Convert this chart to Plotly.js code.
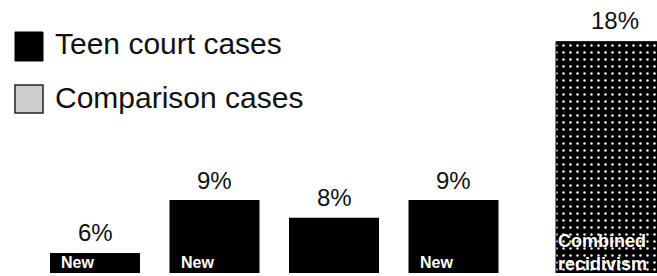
<!DOCTYPE html>
<html>
<head>
<meta charset="utf-8">
<script src="https://cdn.plot.ly/plotly-3.0.1.min.js"></script>
<style>html,body{margin:0;padding:0;background:#fff;}#chart{width:657px;height:276px;}</style>
</head>
<body>
<div id="chart"></div>
<script>
// ---- data ----
var teenCategories = ["Teen court 1", "Teen court 2", "Teen court 3", "Teen court 4"];
var teenValues = [6, 9, 8, 9];
var teenNewLabels = ["New", "New", "", "New"];
var comparisonCategories = ["Combined recidivism"];
var comparisonValues = [18];
var comparisonLabel = "Combined<br>recidivism";
var legendLabels = ["Teen court cases", "Comparison cases"];

// ---- layout helpers (pixel geometry) ----
var W = 657, H = 276, MB = 3, PH = H - MB;
var slotPx = 119.5, firstCenterPx = 95;
var teenPos = teenValues.map(function (_, i) { return i; });
var compPos = [(615 - firstCenterPx) / slotPx];
var pxPerUnit = 17.6, basePx = 358.5;
function px2x(px) { return (px - firstCenterPx) / slotPx; }
function py2val(py) { return (basePx - py) / pxPerUnit; }
function py2paper(py) { return 1 - py / PH; }
function px2paper(px) { return px / W; }

var teenWidth = 90 / slotPx, compWidth = 118 / slotPx;

var traces = [
  {
    type: "bar", name: legendLabels[0], x: teenPos, y: teenValues,
    width: teenWidth, marker: { color: "#000", line: { width: 0 } },
    hoverinfo: "skip", showlegend: false
  },
  {
    type: "bar", name: legendLabels[1], x: compPos, y: comparisonValues,
    width: compWidth,
    marker: { color: "#000", line: { color: "#000", width: 1 },
      pattern: { shape: ".", fgcolor: "#fff", bgcolor: "#000", size: 7, solidity: 0.1 } },
    hoverinfo: "skip", showlegend: false
  }
];

var pctFont = { family: "Liberation Sans, Arial, sans-serif", size: 24, color: "#111" };
var annotations = [];
teenValues.forEach(function (v, i) {
  annotations.push({ x: teenPos[i], y: v, xref: "x", yref: "y", text: v + "%",
    showarrow: false, yanchor: "middle", yshift: 20, font: pctFont });
  if (teenNewLabels[i]) {
    annotations.push({ x: teenPos[i] - teenWidth / 2, y: py2paper(262), xref: "x", yref: "paper",
      text: "<b>" + teenNewLabels[i] + "</b>", showarrow: false, xanchor: "left", yanchor: "middle",
      xshift: 9, font: { family: "Liberation Sans, Arial, sans-serif", size: 16, color: "#fff" } });
  }
});
comparisonValues.forEach(function (v, i) {
  annotations.push({ x: compPos[i], y: v, xref: "x", yref: "y", text: v + "%",
    showarrow: false, yanchor: "middle", yshift: 21, font: pctFont });
});
annotations.push({ x: compPos[0] - compWidth / 2, y: py2paper(252), xref: "x", yref: "paper",
  text: "<b>" + comparisonLabel + "</b>", showarrow: false, xanchor: "left", yanchor: "middle", align: "left",
  xshift: 1, borderpad: 0, font: { family: "Liberation Sans, Arial, sans-serif", size: 18, color: "#fff" } });

// legend text
var legFont = { family: "Liberation Sans, Arial, sans-serif", size: 30, color: "#111" };
annotations.push({ x: px2paper(53), y: py2paper(44), xref: "paper", yref: "paper", text: legendLabels[0],
  showarrow: false, xanchor: "left", yanchor: "middle", font: legFont });
annotations.push({ x: px2paper(53), y: py2paper(97), xref: "paper", yref: "paper", text: legendLabels[1],
  showarrow: false, xanchor: "left", yanchor: "middle", font: legFont });

var shapes = [
  { type: "rect", xref: "paper", yref: "paper", x0: px2paper(15), x1: px2paper(43),
    y0: py2paper(61), y1: py2paper(32), fillcolor: "#000", line: { color: "#000", width: 1 } },
  { type: "rect", xref: "paper", yref: "paper", x0: px2paper(15), x1: px2paper(43),
    y0: py2paper(113), y1: py2paper(85), fillcolor: "#cfcfcf", line: { color: "#222", width: 1.5 } }
];

var layout = {
  width: W, height: H,
  margin: { l: 0, r: 0, t: 0, b: MB, pad: 0 },
  paper_bgcolor: "#fff", plot_bgcolor: "#fff",
  showlegend: false,
  xaxis: { range: [px2x(0), px2x(W)], showgrid: false, zeroline: false, showticklabels: false, showline: false, fixedrange: true },
  yaxis: { range: [py2val(PH), py2val(0)], showgrid: false, zeroline: false, showticklabels: false, showline: false, fixedrange: true },
  annotations: annotations,
  shapes: shapes
};

Plotly.newPlot("chart", traces, layout, { displayModeBar: false, staticPlot: true });
</script>
</body>
</html>
